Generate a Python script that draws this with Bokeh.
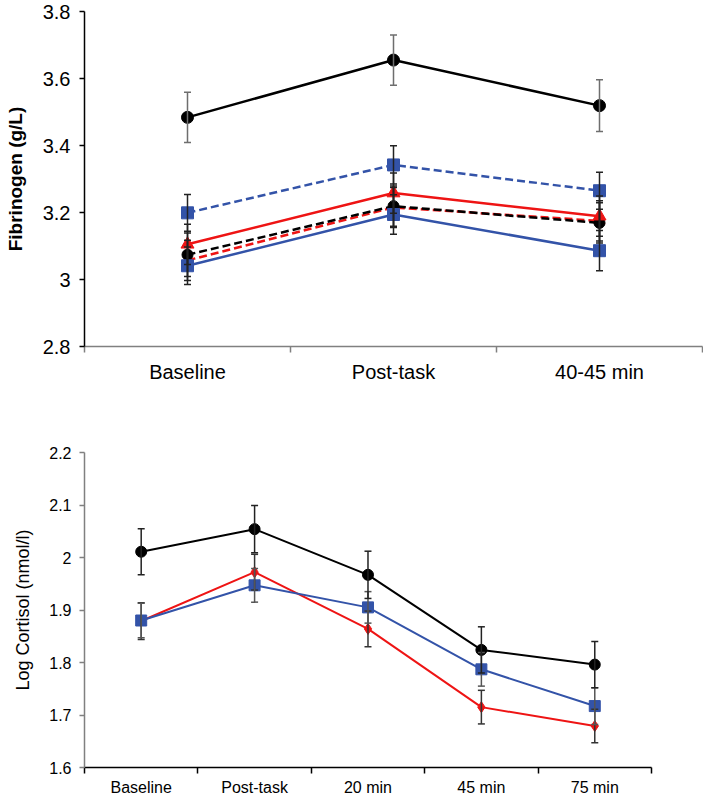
from bokeh.plotting import figure
from bokeh.layouts import column
from bokeh.models import ColumnDataSource, Whisker, TeeHead, FixedTicker, NumeralTickFormatter, Range1d
from bokeh.embed import file_html
from bokeh.resources import INLINE

FONT = "Liberation Sans"

# ---------------- data ----------------
fib_categories = ["Baseline", "Post-task", "40-45 min"]
fib_black_solid = [3.484, 3.655, 3.519]
fib_black_solid_err = [0.075, 0.075, 0.077]
fib_blue_dashed = [3.199, 3.342, 3.265]
fib_blue_dashed_err = [0.055, 0.057, 0.055]
fib_red_solid = [3.105, 3.258, 3.189]
fib_red_solid_err = [0.060, 0.060, 0.060]
fib_black_dashed = [3.074, 3.219, 3.169]
fib_black_dashed_err = [0.065, 0.060, 0.060]
fib_red_dashed = [3.057, 3.215, 3.175]
fib_red_dashed_err = [0.060, 0.060, 0.060]
fib_blue_solid = [3.041, 3.194, 3.086]
fib_blue_solid_err = [0.056, 0.059, 0.060]
fib_yticks = [2.8, 3.0, 3.2, 3.4, 3.6, 3.8]

cort_categories = ["Baseline", "Post-task", "20 min", "45 min", "75 min"]
cort_black = [2.011, 2.054, 1.967, 1.824, 1.796]
cort_black_err = [0.044, 0.045, 0.045, 0.044, 0.044]
cort_blue = [1.880, 1.947, 1.905, 1.787, 1.717]
cort_blue_err = [0.033, 0.032, 0.030, 0.032, 0.035]
cort_red = [1.879, 1.972, 1.864, 1.715, 1.679]
cort_red_err = [0.035, 0.034, 0.034, 0.032, 0.032]
cort_yticks = [1.6, 1.7, 1.8, 1.9, 2.0, 2.1, 2.2]

BLUE = "#3353A8"
RED = "#EE1414"
BLACK = "#000000"


def style_axes(p, cats, xcolor, ycolor, tick_fs, label_fs, yticks, label_bold):
    n = len(cats)
    xa = p.xaxis[0]
    xa.ticker = FixedTicker(ticks=list(range(n)), minor_ticks=[i - 0.5 for i in range(n + 1)])
    xa.major_label_overrides = {i: c for i, c in enumerate(cats)}
    xa.bounds = (-0.5, n - 0.5)
    xa.major_tick_in = 0
    xa.major_tick_out = 0
    xa.minor_tick_in = 0
    xa.minor_tick_out = 6
    xa.axis_line_color = xcolor
    xa.minor_tick_line_color = xcolor
    xa.axis_line_width = 1.5
    xa.minor_tick_line_width = 1.5
    xa.major_label_text_font = FONT
    xa.major_label_text_font_size = f"{tick_fs}px"
    xa.major_label_text_color = "#000000"

    ya = p.yaxis[0]
    ya.ticker = FixedTicker(ticks=yticks, minor_ticks=[])
    ya.formatter = NumeralTickFormatter(format="0.[0]")
    ya.major_tick_in = 0
    ya.major_tick_out = 5
    ya.axis_line_color = ycolor
    ya.major_tick_line_color = ycolor
    ya.axis_line_width = 1.5
    ya.major_tick_line_width = 1.5
    ya.major_label_text_font = FONT
    ya.major_label_text_font_size = f"{tick_fs}px"
    ya.major_label_text_color = "#000000"
    ya.axis_label_text_font = FONT
    ya.axis_label_text_font_size = f"{label_fs}px"
    ya.axis_label_text_font_style = "bold" if label_bold else "normal"
    ya.axis_label_text_color = "#000000"

    p.xgrid.visible = False
    p.ygrid.visible = False
    p.outline_line_color = None


def add_series(p, xs, ys, errs, color, dash, marker, size, lw, err_color):
    src = ColumnDataSource(dict(
        x=xs, y=ys,
        upper=[y + e for y, e in zip(ys, errs)],
        lower=[y - e for y, e in zip(ys, errs)],
    ))
    w = Whisker(base="x", upper="upper", lower="lower", source=src, dimension="height",
                line_color=err_color, line_width=1.5, level="glyph",
                upper_head=TeeHead(size=7, line_color=err_color, line_width=1.5),
                lower_head=TeeHead(size=7, line_color=err_color, line_width=1.5))
    p.add_layout(w)
    p.line("x", "y", source=src, line_color=color, line_width=lw, line_dash=dash)
    p.scatter("x", "y", source=src, marker=marker, size=size, fill_color=color, line_color=color)


W = 703

# ---------------- top: fibrinogen ----------------
p1 = figure(width=W, height=395, output_backend="svg", toolbar_location=None,
            x_range=Range1d(-0.5, len(fib_categories) - 0.5), y_range=Range1d(2.8, 3.8),
            min_border_left=84, min_border_right=1, min_border_top=11, min_border_bottom=49)
p1.yaxis.axis_label = "Fibrinogen (g/L)"
style_axes(p1, fib_categories, "#808080", "#000000", 20, 19, fib_yticks, True)
p1.xaxis.major_label_standoff = 8
p1.yaxis.major_label_standoff = 9
p1.yaxis.axis_label_standoff = 14

xs1 = list(range(len(fib_categories)))
add_series(p1, xs1, fib_blue_dashed, fib_blue_dashed_err, BLUE, "8 4", "square", 12, 2.5, "#222222")
add_series(p1, xs1, fib_red_dashed, fib_red_dashed_err, RED, "8 4", "triangle", 11, 2.5, "#222222")
add_series(p1, xs1, fib_black_dashed, fib_black_dashed_err, BLACK, "8 4", "circle", 11, 2.5, "#222222")
add_series(p1, xs1, fib_red_solid, fib_red_solid_err, RED, "solid", "triangle", 13, 2.5, "#222222")
add_series(p1, xs1, fib_blue_solid, fib_blue_solid_err, BLUE, "solid", "square", 12, 2.5, "#222222")
add_series(p1, xs1, fib_black_solid, fib_black_solid_err, BLACK, "solid", "circle", 12, 2.5, "#6e6e6e")

# ---------------- bottom: cortisol ----------------
# frame spans the same width as the top one (column aligns frames);
# the x axis line is bounded to the five categories
p2 = figure(width=W, height=403, output_backend="svg", toolbar_location=None,
            x_range=Range1d(-0.5, 4.95), y_range=Range1d(1.6, 2.2),
            min_border_left=84, min_border_right=1, min_border_top=57, min_border_bottom=26)
p2.yaxis.axis_label = "Log Cortisol (nmol/l)"
style_axes(p2, cort_categories, "#000000", "#808080", 16, 18, cort_yticks, False)
p2.xaxis.major_label_standoff = 5
p2.yaxis.major_label_standoff = 8
p2.yaxis.axis_label_standoff = 13

xs2 = list(range(len(cort_categories)))
add_series(p2, xs2, cort_red, cort_red_err, RED, "solid", "diamond", 11, 2, "#333333")
add_series(p2, xs2, cort_blue, cort_blue_err, BLUE, "solid", "square", 11, 2, "#555555")
add_series(p2, xs2, cort_black, cort_black_err, BLACK, "solid", "circle", 11, 2, "#222222")

layout = column(p1, p2, spacing=0)
open("out.html", "w").write(file_html(layout, INLINE))
